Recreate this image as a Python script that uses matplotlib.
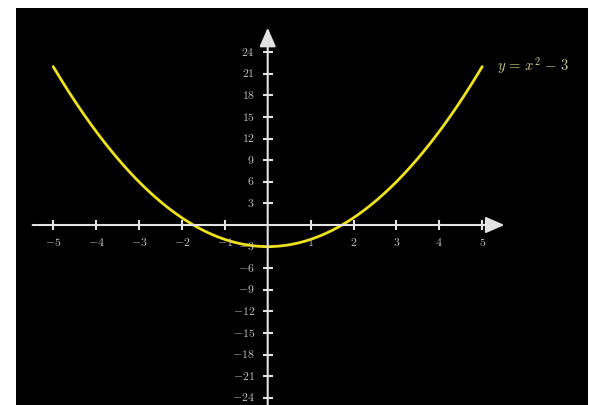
import numpy as np
import matplotlib
matplotlib.use("Agg")
import matplotlib.pyplot as plt

plt.rcParams["mathtext.fontset"] = "cm"

# curve y = x^2 - 3 on [-5, 5]
x_range = (-5, 5)
coef_a = 1
offset_c = -3
curve_label = r"$y\,=\,x^2\,-\,3$"

x_ticks = [-5, -4, -3, -2, -1, 1, 2, 3, 4, 5]
y_ticks = [-24, -21, -18, -15, -12, -9, -6, -3, 3, 6, 9, 12, 15, 18, 21, 24]

AXIS_COL = "#e2e2e2"
LABEL_COL = "#c2c2c2"
CURVE_COL = "#eee21e"

fig = plt.figure(figsize=(5.89, 4.05), dpi=100)
fig.patch.set_facecolor("white")
ax = fig.add_axes([16 / 589, 0, 572 / 589, 397 / 405])
ax.set_facecolor("black")
ax.set_xlim(-5.867, 7.466)
ax.set_ylim(-25.0, 30.14)
for s in ax.spines.values():
    s.set_visible(False)
ax.set_xticks([])
ax.set_yticks([])

# axes with arrow heads
arrow = dict(arrowstyle="-|>,head_length=1.15,head_width=0.5", color=AXIS_COL,
             lw=1.5, shrinkA=0, shrinkB=0)
ax.annotate("", xy=(5.52, 0), xytext=(-5.48, 0), arrowprops=arrow)
ax.annotate("", xy=(0, 27.4), xytext=(0, -26), arrowprops=arrow)

# tick marks
ax.plot(x_ticks, [0] * len(x_ticks), ls="none", marker="|", ms=7, mew=1.5,
        color=AXIS_COL)
ax.plot([0] * len(y_ticks), y_ticks, ls="none", marker="_", ms=7, mew=1.5,
        color=AXIS_COL)

# tick labels
for v in x_ticks:
    ax.text(v, -2.45, f"${v}$", color=LABEL_COL, fontsize=8.5,
            ha="center", va="center")
for v in y_ticks:
    ax.text(-0.3, v, f"${v}$", color=LABEL_COL, fontsize=8.5,
            ha="right", va="center")

# parabola
xs = np.linspace(x_range[0], x_range[1], 400)
ys = coef_a * xs ** 2 + offset_c
ax.plot(xs, ys, color=CURVE_COL, lw=2, solid_capstyle="round")

ax.text(5.35, 22.1, curve_label, color="#d2cf8c", fontsize=10.5,
        ha="left", va="center")

fig.savefig("out.png", dpi=100, facecolor=fig.get_facecolor())
